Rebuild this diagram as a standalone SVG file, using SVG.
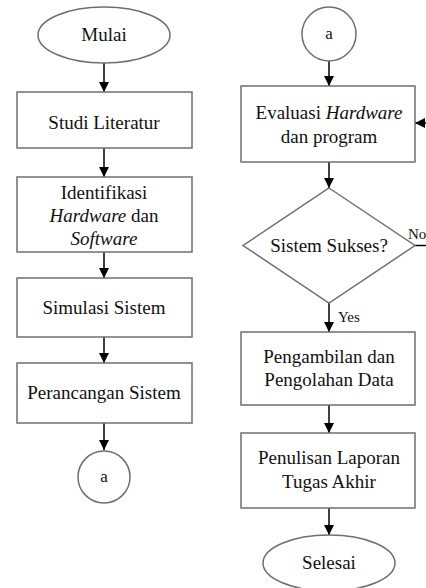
<svg xmlns="http://www.w3.org/2000/svg" width="426" height="588" viewBox="0 0 426 588">
<defs>
<marker id="ah" viewBox="0 0 10 10" refX="10" refY="5" markerWidth="10" markerHeight="10" markerUnits="userSpaceOnUse" orient="auto">
<path d="M0,0 L10,5 L0,10 Z" fill="#000"/>
</marker>
</defs>
<rect width="426" height="588" fill="#fff"/>
<g id="connectors" stroke="#000" stroke-width="1.5" fill="none">
<line marker-end="url(#ah)" x1="104" y1="63" x2="104" y2="92"/>
<line marker-end="url(#ah)" x1="104" y1="148" x2="104" y2="177"/>
<line marker-end="url(#ah)" x1="104" y1="252" x2="104" y2="278"/>
<line marker-end="url(#ah)" x1="104" y1="337" x2="104" y2="363"/>
<line marker-end="url(#ah)" x1="104" y1="423" x2="104" y2="450"/>
<line marker-end="url(#ah)" x1="329" y1="61" x2="329" y2="86"/>
<line marker-end="url(#ah)" x1="329" y1="162" x2="329" y2="188"/>
<line marker-end="url(#ah)" x1="329" y1="303" x2="329" y2="332"/>
<line marker-end="url(#ah)" x1="329" y1="405" x2="329" y2="433"/>
<line marker-end="url(#ah)" x1="329" y1="508" x2="329" y2="535"/>
<line x1="415" y1="245.5" x2="430" y2="245.5"/>
<line marker-end="url(#ah)" x1="430" y1="123" x2="415" y2="123"/>
</g>
<text style="font-family:'Liberation Serif',serif" font-size="15" fill="#111" x="408" y="239">No</text>
<text style="font-family:'Liberation Serif',serif" font-size="15" fill="#111" x="338" y="322">Yes</text>
<g id="mulai"><ellipse fill="#fff" stroke="#6f6f6f" stroke-width="1.5" cx="104" cy="35" rx="66" ry="28"/><text style="font-family:'Liberation Serif',serif" font-size="19" fill="#111" text-anchor="middle" x="104" y="41">Mulai</text></g>
<g id="studi"><rect fill="#fff" stroke="#6f6f6f" stroke-width="1.5" x="17" y="92" width="175" height="56"/><text style="font-family:'Liberation Serif',serif" font-size="19" fill="#111" text-anchor="middle" x="104" y="129">Studi Literatur</text></g>
<g id="identifikasi"><rect fill="#fff" stroke="#6f6f6f" stroke-width="1.5" x="17" y="177" width="175" height="75"/>
<text style="font-family:'Liberation Serif',serif" font-size="19" fill="#111" text-anchor="middle" x="104" y="199">Identifikasi</text>
<text style="font-family:'Liberation Serif',serif" font-size="19" fill="#111" text-anchor="middle" x="104" y="222"><tspan font-style="italic">Hardware</tspan> dan</text>
<text style="font-family:'Liberation Serif',serif" font-size="19" fill="#111" text-anchor="middle" x="104" y="245" font-style="italic">Software</text></g>
<g id="simulasi"><rect fill="#fff" stroke="#6f6f6f" stroke-width="1.5" x="17" y="278" width="175" height="59"/><text style="font-family:'Liberation Serif',serif" font-size="19" fill="#111" text-anchor="middle" x="104" y="314">Simulasi Sistem</text></g>
<g id="perancangan"><rect fill="#fff" stroke="#6f6f6f" stroke-width="1.5" x="17" y="363" width="175" height="60"/><text style="font-family:'Liberation Serif',serif" font-size="19" fill="#111" text-anchor="middle" x="104" y="399">Perancangan Sistem</text></g>
<g id="a1"><circle fill="#fff" stroke="#6f6f6f" stroke-width="1.5" cx="104" cy="477" r="26"/><text style="font-family:'Liberation Serif',serif" font-size="17" fill="#111" text-anchor="middle" x="104" y="482">a</text></g>
<g id="a2"><circle fill="#fff" stroke="#6f6f6f" stroke-width="1.5" cx="329" cy="34" r="27"/><text style="font-family:'Liberation Serif',serif" font-size="17" fill="#111" text-anchor="middle" x="329" y="39">a</text></g>
<g id="evaluasi"><rect fill="#fff" stroke="#6f6f6f" stroke-width="1.5" x="241" y="86" width="174" height="76"/>
<text style="font-family:'Liberation Serif',serif" font-size="19" fill="#111" text-anchor="middle" x="329" y="119">Evaluasi <tspan font-style="italic">Hardware</tspan></text>
<text style="font-family:'Liberation Serif',serif" font-size="19" fill="#111" text-anchor="middle" x="329" y="143">dan program</text></g>
<g id="sukses"><polygon fill="#fff" stroke="#6f6f6f" stroke-width="1.5" points="329,188 415,245.5 329,303 243,245.5"/><text style="font-family:'Liberation Serif',serif" font-size="19" fill="#111" text-anchor="middle" x="329" y="252">Sistem Sukses?</text></g>
<g id="pengambilan"><rect fill="#fff" stroke="#6f6f6f" stroke-width="1.5" x="241" y="332" width="174" height="73"/>
<text style="font-family:'Liberation Serif',serif" font-size="19" fill="#111" text-anchor="middle" x="329" y="363">Pengambilan dan</text>
<text style="font-family:'Liberation Serif',serif" font-size="19" fill="#111" text-anchor="middle" x="329" y="386">Pengolahan Data</text></g>
<g id="penulisan"><rect fill="#fff" stroke="#6f6f6f" stroke-width="1.5" x="241" y="433" width="174" height="75"/>
<text style="font-family:'Liberation Serif',serif" font-size="19" fill="#111" text-anchor="middle" x="329" y="464">Penulisan Laporan</text>
<text style="font-family:'Liberation Serif',serif" font-size="19" fill="#111" text-anchor="middle" x="329" y="488">Tugas Akhir</text></g>
<g id="selesai"><ellipse fill="#fff" stroke="#6f6f6f" stroke-width="1.5" cx="329" cy="563" rx="66" ry="28"/><text style="font-family:'Liberation Serif',serif" font-size="19" fill="#111" text-anchor="middle" x="329" y="569">Selesai</text></g>
</svg>
